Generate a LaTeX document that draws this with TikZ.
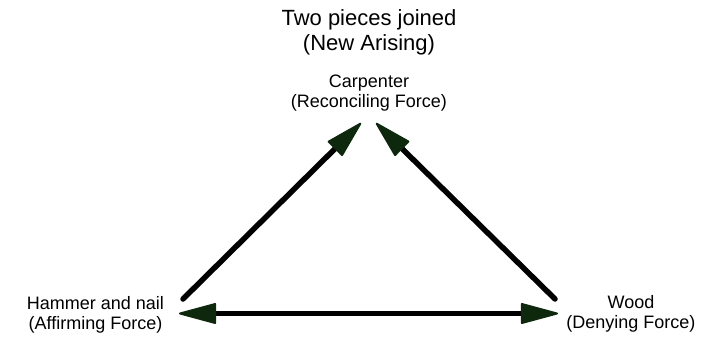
\documentclass[tikz,border=0pt]{standalone}
\usepackage{fontspec}
\setmainfont{Liberation Sans}
\usetikzlibrary{arrows.meta}
\definecolor{headgreen}{RGB}{14,40,14}
\begin{document}
\begin{tikzpicture}[x=1pt,y=-1pt,
  lbl/.style={align=center,anchor=base,inner sep=0pt,font=\fontsize{18}{20.5}\selectfont},
  ttl/.style={align=center,anchor=base,inner sep=0pt,font=\fontsize{22}{24.5}\selectfont},
  headtip/.tip={Triangle[length=40pt,width=21pt,round,color=headgreen,fill=headgreen,line width=2pt]},
  conn/.style={line width=5.5pt,draw=black,line cap=round}]
\useasboundingbox (0,0) rectangle (720,338);
\node[ttl] (title) at (369,50) {Two pieces joined\\(New Arising)};
\node[lbl] (carp) at (369,107.5) {Carpenter\\(Reconciling Force)};
\node[lbl] (hammer) at (95.5,329.5) {Hammer and nail\\(Affirming Force)};
\node[lbl] (wood) at (631,328.5) {Wood\\(Denying Force)};
\coordinate (ltop) at (361,123);
\coordinate (rtop) at (376,123);
\coordinate (lbot) at (183,299);
\coordinate (rbot) at (555,299);
\coordinate (bl) at (179,313.5);
\coordinate (br) at (558,313.5);
\draw[conn,-{headtip}] (lbot) -- (ltop);
\draw[conn,-{headtip}] (rbot) -- (rtop);
\draw[conn,{headtip}-{headtip}] (bl) -- (br);
\end{tikzpicture}
\end{document}
